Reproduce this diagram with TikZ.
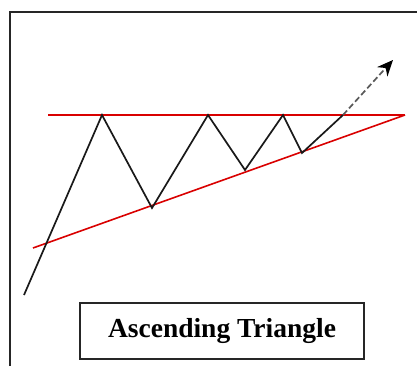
\documentclass[tikz,border=0pt]{standalone}
\usepackage{fontspec}
\setmainfont{Liberation Serif}
\usetikzlibrary{positioning,arrows.meta}

\begin{document}
\begin{tikzpicture}[
  x=1pt, y=-1pt, >=Stealth,
  frame/.style={draw=black!85, line width=1.8pt},
  level/.style={draw=red!85!black, line width=1.6pt},
  price/.style={draw=black!90, line width=1.7pt, line join=miter},
  breakout/.style={-{Stealth[length=16pt,width=14pt,black,sep=0pt]}, dashed,
                   dash pattern=on 6pt off 3pt, draw=black!65,
                   line width=1.7pt},
  label/.style={draw=black!85, line width=1.8pt, minimum width=284pt,
                minimum height=56pt, inner sep=0pt,
                font=\fontsize{27.5}{32}\selectfont\bfseries},
]
\useasboundingbox (0,0) rectangle (417,374);

% outer frame (right and bottom edges cut off)
\draw[frame] (10,366) -- (10,12) -- (417,12);

% resistance and rising support
\coordinate (r0) at (48,115);
\coordinate (apex) at (405,115);
\coordinate (s0) at (33,248);
\draw[level] (r0) -- (apex);
\draw[level] (s0) -- (apex);

% price swings
\coordinate (p0) at (24,295);
\coordinate (h1) at (102,115);
\coordinate (l1) at (152,208);
\coordinate (h2) at (208,115);
\coordinate (l2) at (245,170);
\coordinate (h3) at (283,115);
\coordinate (l3) at (302,153);
\coordinate (bo) at (343,115);
\coordinate (tgt) at (393,60);
\draw[price] (p0) -- (h1) -- (l1) -- (h2) -- (l2) -- (h3) -- (l3) -- (bo);
\draw[breakout] (bo) -- (tgt);

\node[label] (name) at (222,331) {Ascending Triangle};
\end{tikzpicture}
\end{document}
